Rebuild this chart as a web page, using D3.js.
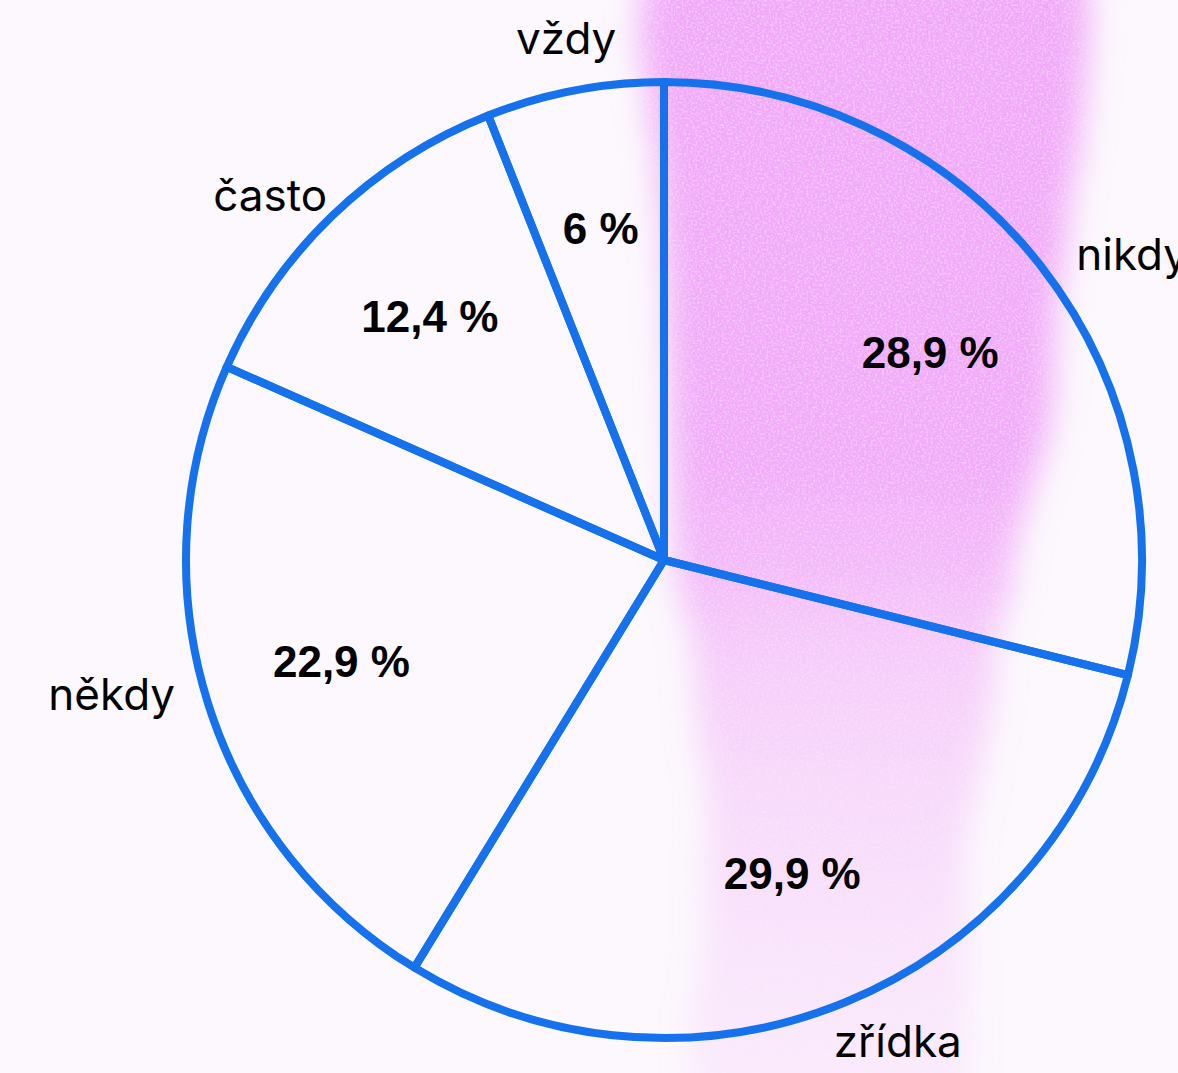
<!DOCTYPE html>
<html>
<head>
<meta charset="utf-8">
<script src="https://cdn.jsdelivr.net/npm/d3@7"></script>
<style>
  html, body { margin: 0; padding: 0; background: #fcf8fd; overflow: hidden; }
  svg { display: block; }
</style>
</head>
<body>
<svg id="chart" width="1178" height="1073"></svg>
<script>
// Answer categories, clockwise from the top
const categories = ["nikdy", "zřídka", "někdy", "často", "vždy"];
// Share of respondents, percent
const shares = [28.9, 29.9, 22.9, 12.4, 6.0];
// Value labels as printed (Czech decimal comma)
const shareLabels = ["28,9 %", "29,9 %", "22,9 %", "12,4 %", "6 %"];

const W = 1178, H = 1073;
const cx = 664, cy = 560, R = 478;
const blue = "#1672ec";

const svg = d3.select("#chart");
const defs = svg.append("defs");

// Pale page wash
svg.append("rect").attr("width", W).attr("height", H).attr("fill", "#fcf8fd");

// Soft, grainy brush stroke running down behind the pie
const grad = defs.append("linearGradient")
  .attr("id", "bandFade").attr("x1", 0).attr("y1", 0).attr("x2", 0).attr("y2", 1);
[[0, 1], [0.44, 0.97], [0.52, 0.8], [0.6, 0.55], [0.72, 0.38], [0.86, 0.24], [1, 0.14]]
  .forEach(([o, a]) => grad.append("stop").attr("offset", o)
    .attr("stop-color", "#f1a7f8").attr("stop-opacity", a));

const brush = defs.append("filter").attr("id", "brush")
  .attr("x", "-20%").attr("y", "-10%").attr("width", "140%").attr("height", "120%");
brush.append("feTurbulence").attr("type", "fractalNoise")
  .attr("baseFrequency", "0.02 0.008").attr("numOctaves", 2).attr("seed", 7).attr("result", "wave");
brush.append("feDisplacementMap").attr("in", "SourceGraphic").attr("in2", "wave")
  .attr("scale", 22).attr("xChannelSelector", "R").attr("yChannelSelector", "G").attr("result", "disp");
brush.append("feGaussianBlur").attr("in", "disp").attr("stdDeviation", 16).attr("result", "soft");
brush.append("feTurbulence").attr("type", "fractalNoise")
  .attr("baseFrequency", 0.45).attr("numOctaves", 2).attr("seed", 3).attr("result", "grain");
brush.append("feColorMatrix").attr("in", "grain").attr("type", "matrix")
  .attr("values", "0 0 0 0 1  0 0 0 0 1  0 0 0 0 1  0.9 0 0 0 -0.38").attr("result", "specks");
brush.append("feComposite").attr("in", "specks").attr("in2", "soft")
  .attr("operator", "in").attr("result", "specksIn");
const merge = brush.append("feMerge");
merge.append("feMergeNode").attr("in", "soft");
merge.append("feMergeNode").attr("in", "specksIn");

const band = d3.line().curve(d3.curveCatmullRomClosed);
svg.append("path")
  .attr("d", band([[658, -40], [860, -45], [1075, -40], [1068, 200], [1050, 400], [1012, 560],
                   [985, 720], [965, 900], [955, 1110], [820, 1120], [705, 1110], [705, 900],
                   [698, 720], [682, 560], [670, 400], [662, 200]]))
  .attr("fill", "url(#bandFade)")
  .attr("filter", "url(#brush)");

// Pie
const pie = d3.pie().sort(null).value(d => d);
const arcs = pie(shares);
const arc = d3.arc().innerRadius(0).outerRadius(R);
const valueArc = d3.arc().innerRadius(R * 0.707).outerRadius(R * 0.707);

const g = svg.append("g").attr("transform", `translate(${cx},${cy})`);

g.selectAll("path.slice").data(arcs).join("path")
  .attr("class", "slice")
  .attr("d", arc)
  .attr("fill", "none")
  .attr("stroke", blue)
  .attr("stroke-width", 8)
  .attr("stroke-linejoin", "round");

g.selectAll("text.value").data(arcs).join("text")
  .attr("class", "value")
  .attr("transform", d => `translate(${valueArc.centroid(d)})`)
  .attr("text-anchor", "middle")
  .attr("dy", "0.36em")
  .style("font-family", "'Liberation Sans', Arial, sans-serif")
  .style("font-weight", 700)
  .style("font-size", "44px")
  .attr("fill", "#000")
  .text((d, i) => shareLabels[i]);

const names = g.selectAll("text.name").data(arcs).join("text")
  .attr("class", "name")
  .attr("text-anchor", "middle")
  .attr("dy", "0.3em")
  .style("font-family", "Inter, 'Noto Sans', sans-serif")
  .style("font-weight", 400)
  .style("font-size", "44px")
  .attr("fill", "#000")
  .text((d, i) => categories[i]);

// Category names sit just outside the rim: pushed sideways by half their width,
// and further out vertically the closer they are to the top or bottom
names.attr("transform", function (d) {
  const a = (d.startAngle + d.endAngle) / 2;
  const s = Math.sin(a), c = Math.cos(a);
  const w = this.getComputedTextLength();
  const x = s * R * 1.1 + s * w / 2 + 10;
  const y = -c * (R * 0.9 + R * 0.21 * Math.abs(c));
  return `translate(${x},${y})`;
});
</script>
</body>
</html>
